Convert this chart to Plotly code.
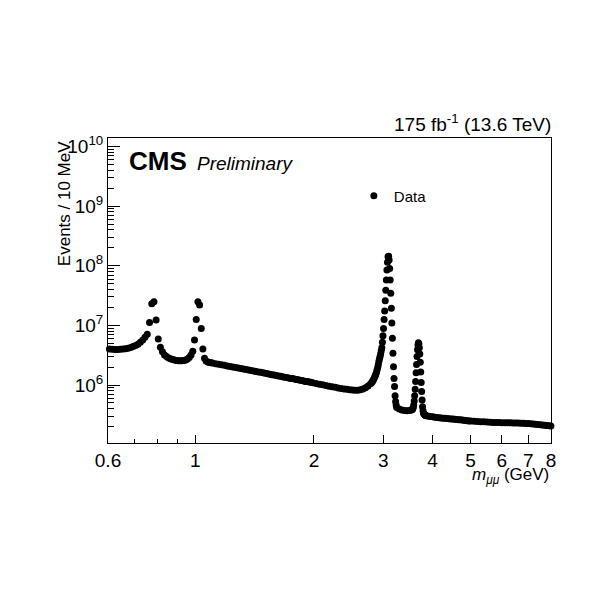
import math
import plotly.graph_objects as go

# ---------------- data ----------------
# 0.6 - 1.1 GeV, 10 MeV bins (rho/omega and phi region)
mass_low = [0.605, 0.615, 0.625, 0.635, 0.645, 0.655, 0.665, 0.675, 0.685, 0.695,
            0.705, 0.715, 0.725, 0.735, 0.745, 0.755, 0.765, 0.775, 0.785, 0.795,
            0.805, 0.815, 0.825, 0.835, 0.845, 0.855, 0.865, 0.875, 0.885, 0.895,
            0.905, 0.915, 0.925, 0.935, 0.945, 0.955, 0.965, 0.975, 0.985, 0.995,
            1.005, 1.015, 1.025, 1.035, 1.045, 1.055, 1.065, 1.075, 1.085, 1.095,
            1.105]
events_low = [4.00e6, 3.97e6, 3.95e6, 3.95e6, 3.97e6, 4.00e6, 4.05e6, 4.15e6, 4.27e6, 4.42e6,
              4.60e6, 4.85e6, 5.20e6, 5.70e6, 6.30e6, 7.10e6, 1.12e7, 2.30e7, 2.50e7, 1.23e7,
              5.90e6, 4.30e6, 3.60e6, 3.20e6, 3.00e6, 2.85e6, 2.75e6, 2.68e6, 2.62e6, 2.58e6,
              2.56e6, 2.55e6, 2.56e6, 2.58e6, 2.63e6, 2.72e6, 2.90e6, 3.20e6, 3.70e6, 5.70e6,
              1.26e7, 2.50e7, 2.20e7, 8.90e6, 4.00e6, 2.80e6, 2.52e6, 2.44e6, 2.39e6, 2.36e6,
              2.33e6]

# 1.1 - 2.0 GeV continuum
mass_cont1 = [1.125, 1.145, 1.165, 1.185, 1.205, 1.225, 1.245, 1.265, 1.285, 1.305,
              1.325, 1.345, 1.365, 1.385, 1.405, 1.425, 1.445, 1.465, 1.485, 1.505,
              1.525, 1.545, 1.565, 1.585, 1.605, 1.625, 1.645, 1.665, 1.685, 1.705,
              1.725, 1.745, 1.765, 1.785, 1.805, 1.825, 1.845, 1.865, 1.885, 1.905,
              1.925, 1.945, 1.965, 1.985]
events_cont1 = [2.28e6, 2.23e6, 2.18e6, 2.14e6, 2.09e6, 2.05e6, 2.01e6, 1.97e6, 1.93e6, 1.89e6,
                1.85e6, 1.82e6, 1.78e6, 1.75e6, 1.72e6, 1.69e6, 1.66e6, 1.63e6, 1.60e6, 1.57e6,
                1.54e6, 1.52e6, 1.49e6, 1.47e6, 1.44e6, 1.42e6, 1.40e6, 1.38e6, 1.35e6, 1.33e6,
                1.31e6, 1.29e6, 1.28e6, 1.26e6, 1.24e6, 1.22e6, 1.20e6, 1.19e6, 1.17e6, 1.15e6,
                1.14e6, 1.12e6, 1.11e6, 1.09e6]

# 2.0 - 2.8 GeV continuum
mass_cont2 = [2.025, 2.065, 2.105, 2.145, 2.185, 2.225, 2.265, 2.305, 2.345, 2.385,
              2.425, 2.465, 2.505, 2.545, 2.585, 2.625, 2.665, 2.705, 2.745, 2.785]
events_cont2 = [1.06e6, 1.03e6, 1.005e6, 9.80e5, 9.55e5, 9.35e5, 9.15e5, 8.95e5, 8.75e5, 8.60e5,
                8.45e5, 8.35e5, 8.25e5, 8.20e5, 8.20e5, 8.35e5, 8.60e5, 9.00e5, 9.60e5, 1.05e6]

# J/psi region, 10 MeV bins
mass_jpsi = [2.805, 2.815, 2.825, 2.835, 2.845, 2.855, 2.865, 2.875, 2.885, 2.895,
             2.905, 2.915, 2.925, 2.935, 2.945, 2.955, 2.965, 2.975, 2.985, 2.995,
             3.005, 3.015, 3.025, 3.035, 3.045, 3.055, 3.065, 3.075, 3.085, 3.095,
             3.105, 3.115, 3.125, 3.135, 3.145, 3.155, 3.165, 3.175, 3.185, 3.195,
             3.205, 3.215, 3.225, 3.235, 3.245]
events_jpsi = [1.10e6, 1.14e6, 1.19e6, 1.24e6, 1.30e6, 1.37e6, 1.45e6, 1.54e6, 1.65e6, 1.80e6,
               1.98e6, 2.20e6, 2.50e6, 2.75e6, 3.00e6, 3.35e6, 3.75e6, 4.20e6, 5.20e6, 6.70e6,
               8.90e6, 1.25e7, 1.75e7, 2.60e7, 3.90e7, 5.80e7, 8.50e7, 1.15e8, 1.42e8, 1.45e8,
               1.25e8, 9.00e7, 5.80e7, 3.46e7, 1.94e7, 1.10e7, 6.10e6, 3.40e6, 2.03e6, 1.29e6,
               9.40e5, 6.60e5, 5.30e5, 4.60e5, 4.20e5]

# between J/psi and psi(2S)
mass_trough = [3.295, 3.345, 3.395, 3.445, 3.495, 3.535, 3.545]
events_trough = [3.95e5, 3.80e5, 3.72e5, 3.70e5, 3.72e5, 3.80e5, 3.85e5]

# psi(2S) region, 10 MeV bins
mass_psi2s = [3.555, 3.565, 3.575, 3.585, 3.595, 3.605, 3.615, 3.625, 3.635, 3.645,
              3.655, 3.665, 3.675, 3.685, 3.695, 3.705, 3.715, 3.725, 3.735, 3.745,
              3.755, 3.765, 3.775, 3.785, 3.795, 3.805, 3.815, 3.825, 3.835, 3.845,
              3.855]
events_psi2s = [3.90e5, 4.00e5, 4.20e5, 4.60e5, 5.40e5, 6.60e5, 8.50e5, 1.15e6, 1.60e6, 2.20e6,
                3.00e6, 3.90e6, 4.70e6, 5.10e6, 4.90e6, 4.20e6, 3.30e6, 2.40e6, 1.65e6, 1.10e6,
                7.80e5, 5.60e5, 4.30e5, 3.70e5, 3.40e5, 3.30e5, 3.22e5, 3.16e5, 3.10e5, 3.07e5,
                3.04e5]

# high-mass tail
mass_tail = [3.905, 3.955, 4.005, 4.055, 4.105, 4.155, 4.205, 4.255, 4.305, 4.355,
             4.405, 4.455, 4.505, 4.555, 4.605, 4.655, 4.705, 4.755, 4.805, 4.855,
             4.905, 4.955, 5.005, 5.105, 5.205, 5.305, 5.405, 5.505, 5.605, 5.705,
             5.805, 5.905, 6.005, 6.105, 6.205, 6.305, 6.405, 6.505, 6.605, 6.705,
             6.805, 6.905, 7.005, 7.105, 7.205, 7.305, 7.405, 7.505, 7.605, 7.705,
             7.805, 7.905, 7.995]
events_tail = [3.00e5, 2.95e5, 2.92e5, 2.88e5, 2.85e5, 2.82e5, 2.80e5, 2.78e5, 2.76e5, 2.74e5,
               2.72e5, 2.70e5, 2.68e5, 2.66e5, 2.64e5, 2.62e5, 2.60e5, 2.58e5, 2.56e5, 2.54e5,
               2.52e5, 2.50e5, 2.49e5, 2.47e5, 2.45e5, 2.43e5, 2.41e5, 2.39e5, 2.37e5, 2.36e5,
               2.35e5, 2.34e5, 2.33e5, 2.33e5, 2.32e5, 2.32e5, 2.31e5, 2.31e5, 2.30e5, 2.29e5,
               2.28e5, 2.27e5, 2.25e5, 2.23e5, 2.21e5, 2.19e5, 2.17e5, 2.15e5, 2.13e5, 2.11e5,
               2.09e5, 2.07e5, 2.05e5]

# axis ticks
x_tick_vals = [0.6, 1, 2, 3, 4, 5, 6, 7, 8]
x_tick_text = ["0.6", "1", "2", "3", "4", "5", "6", "7", "8"]
x_minor_vals = [0.7, 0.8, 0.9]
y_tick_vals = [1e6, 1e7, 1e8, 1e9, 1e10]
y_tick_text = ["10<sup>6</sup>", "10<sup>7</sup>", "10<sup>8</sup>", "10<sup>9</sup>", "10<sup>10</sup>"]

mass = mass_low + mass_cont1 + mass_cont2 + mass_jpsi + mass_trough + mass_psi2s + mass_tail
events = events_low + events_cont1 + events_cont2 + events_jpsi + events_trough + events_psi2s + events_tail

FONT = "Liberation Sans, Arial, Helvetica, sans-serif"
y_lo, y_hi = 5.027, 10.144
y_minor_vals = [k * 10 ** n for n in range(5, 10) for k in range(2, 10)
                if math.log10(k * 10 ** n) > y_lo]

fig = go.Figure()
fig.add_trace(go.Scatter(
    x=mass, y=events, mode="markers", name="Data",
    marker=dict(color="black", size=7, symbol="circle", line=dict(width=0)),
    cliponaxis=False, showlegend=True,
))

# the page body adds an 8px offset; margins compensate for it
fig.update_layout(
    width=612, height=598,
    margin=dict(l=100, r=69, t=130, b=163),
    paper_bgcolor="white", plot_bgcolor="white",
    font=dict(family=FONT, color="black"),
    showlegend=True,
    legend=dict(x=0.555, y=0.81, xanchor="left", yanchor="middle",
                bgcolor="rgba(0,0,0,0)", borderwidth=0,
                font=dict(family=FONT, size=15, color="black")),
    xaxis=dict(
        type="log", range=[math.log10(0.6), math.log10(8)],
        showline=True, linecolor="black", linewidth=1, mirror=True,
        showgrid=False, zeroline=False,
        ticks="inside", ticklen=8, tickwidth=1, tickcolor="black",
        tickmode="array", tickvals=x_tick_vals, ticktext=x_tick_text,
        tickfont=dict(family=FONT, size=19, color="black"),
        minor=dict(tickmode="array", tickvals=x_minor_vals, ticks="inside",
                   ticklen=4, tickcolor="black", tickwidth=1, showgrid=False),
    ),
    yaxis=dict(
        type="log", range=[y_lo, y_hi],
        showline=True, linecolor="black", linewidth=1, mirror=True,
        showgrid=False, zeroline=False,
        ticks="inside", ticklen=12, tickwidth=1, tickcolor="black",
        tickmode="array", tickvals=y_tick_vals, ticktext=y_tick_text,
        tickfont=dict(family=FONT, size=19, color="black"),
        minor=dict(tickmode="array", tickvals=y_minor_vals, ticks="inside",
                   ticklen=6, tickcolor="black", tickwidth=1, showgrid=False),
    ),
    annotations=[
        dict(text="<b>CMS</b>", xref="paper", yref="paper", x=0.043, y=0.925,
             xanchor="left", yanchor="middle", showarrow=False,
             font=dict(family=FONT, size=26, color="black")),
        dict(text="<i>Preliminary</i>", xref="paper", yref="paper", x=0.197, y=0.915,
             xanchor="left", yanchor="middle", showarrow=False,
             font=dict(family=FONT, size=19, color="black")),
        dict(text="175 fb<sup>-1</sup> (13.6 TeV)", xref="paper", yref="paper", x=1.005, y=1.05,
             xanchor="right", yanchor="middle", showarrow=False,
             font=dict(family=FONT, size=19, color="black")),
        dict(text="Events / 10 MeV", xref="paper", yref="paper", x=-0.099, y=0.995,
             xanchor="center", yanchor="top", textangle=-90, showarrow=False,
             font=dict(family=FONT, size=17, color="black")),
        dict(text="<i>m</i><sub><i>μμ</i></sub> (GeV)", xref="paper", yref="paper", x=1.0, y=-0.107,
             xanchor="right", yanchor="middle", showarrow=False,
             font=dict(family=FONT, size=17, color="black")),
    ],
)

fig.write_html("out.html")
